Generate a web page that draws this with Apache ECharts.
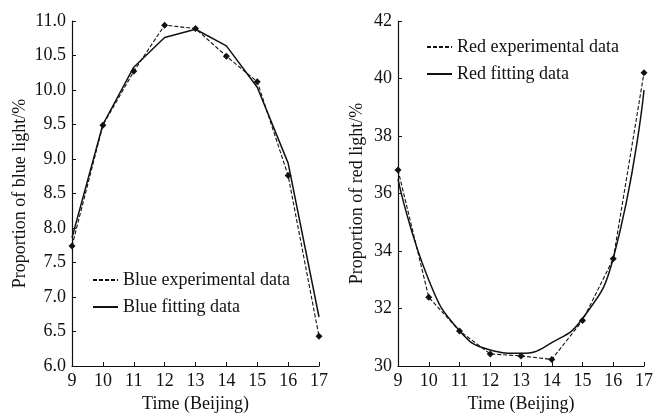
<!DOCTYPE html>
<html>
<head>
<meta charset="utf-8">
<script src="https://cdn.jsdelivr.net/npm/echarts@6/dist/echarts.min.js"></script>
<style>
  html, body { margin: 0; padding: 0; background: #fff; }
  #chart { width: 656px; height: 418px; }
</style>
</head>
<body>
<div id="chart"></div>
<script>
// time of day (Beijing)
const hours = [9, 10, 11, 12, 13, 14, 15, 16, 17];

// blue light proportion (%)
const blueExp = [7.74, 9.49, 10.27, 10.94, 10.89, 10.49, 10.12, 8.76, 6.43];
const blueFit = [7.86, 9.50, 10.33, 10.76, 10.88, 10.64, 10.04, 8.94, 6.71];

// red light proportion (%)
const redExp = [36.82, 32.39, 31.22, 30.42, 30.35, 30.23, 31.58, 33.73, 40.2];
const redFit = [36.5, 32.99, 31.23, 30.56, 30.44, 30.81, 31.65, 33.75, 39.6];

const FONT = "'Liberation Serif', 'Times New Roman', serif";
const INK = "#111";

const pairs = (ys) => hours.map((h, i) => [h, ys[i]]);

const chart = echarts.init(document.getElementById("chart"));

// shared axis look
const xAxisBase = (gridIndex) => ({
  gridIndex,
  type: "value",
  min: 9,
  max: 17,
  interval: 1,
  name: "Time (Beijing)",
  nameLocation: "middle",
  nameGap: 25,
  nameTextStyle: { fontFamily: FONT, fontSize: 18, color: INK },
  axisLine: { lineStyle: { color: INK, width: 1.2 } },
  axisTick: { inside: true, length: 4, lineStyle: { color: INK } },
  axisLabel: { fontFamily: FONT, fontSize: 18, color: INK, margin: 6 },
  splitLine: { show: false },
});

const yAxisBase = (gridIndex, name, min, max, interval, gap, fmt) => ({
  gridIndex,
  type: "value",
  min,
  max,
  interval,
  name,
  nameLocation: "middle",
  nameGap: gap,
  nameTextStyle: { fontFamily: FONT, fontSize: 18, color: INK },
  axisLine: { show: true, lineStyle: { color: INK, width: 1.2 } },
  axisTick: { show: true, inside: true, length: 4, lineStyle: { color: INK } },
  axisLabel: { fontFamily: FONT, fontSize: 18, color: INK, margin: 6, formatter: fmt },
  splitLine: { show: false },
});

const expSeries = (name, idx, ys) => ({
  name,
  type: "line",
  xAxisIndex: idx,
  yAxisIndex: idx,
  data: pairs(ys),
  symbol: "diamond",
  symbolSize: 7,
  itemStyle: { color: INK },
  lineStyle: { color: INK, width: 1.1, type: [4, 2] },
  z: 3,
});

const fitSeries = (name, idx, ys, smooth) => ({
  name,
  type: "line",
  xAxisIndex: idx,
  yAxisIndex: idx,
  data: pairs(ys),
  symbol: "none",
  smooth,
  itemStyle: { color: INK },
  lineStyle: { color: INK, width: 1.5 },
  z: 2,
});

const legendBase = (left, top, names) => ({
  orient: "vertical",
  left,
  top,
  itemWidth: 25,
  itemHeight: 14,
  itemGap: 9,
  textStyle: { fontFamily: FONT, fontSize: 18, color: INK },
  itemStyle: { opacity: 0 },
  data: names,
});

const option = {
  animation: false,
  backgroundColor: "#fff",
  grid: [
    { left: 72, top: 21, width: 247, height: 345 },
    { left: 398, top: 21, width: 247, height: 345 },
  ],
  xAxis: [xAxisBase(0), xAxisBase(1)],
  yAxis: [
    yAxisBase(0, "Proportion of blue light/%", 6, 11, 0.5, 43, (v) => v.toFixed(1)),
    yAxisBase(1, "Proportion of red light/%", 30, 42, 2, 32, (v) => String(v)),
  ],
  legend: [
    legendBase(87, 266, ["Blue experimental data", "Blue fitting data"]),
    legendBase(421, 33, ["Red experimental data", "Red fitting data"]),
  ],
  series: [
    expSeries("Blue experimental data", 0, blueExp),
    fitSeries("Blue fitting data", 0, blueFit, false),
    expSeries("Red experimental data", 1, redExp),
    fitSeries("Red fitting data", 1, redFit, 0.5),
  ],
};

chart.setOption(option);
</script>
</body>
</html>
